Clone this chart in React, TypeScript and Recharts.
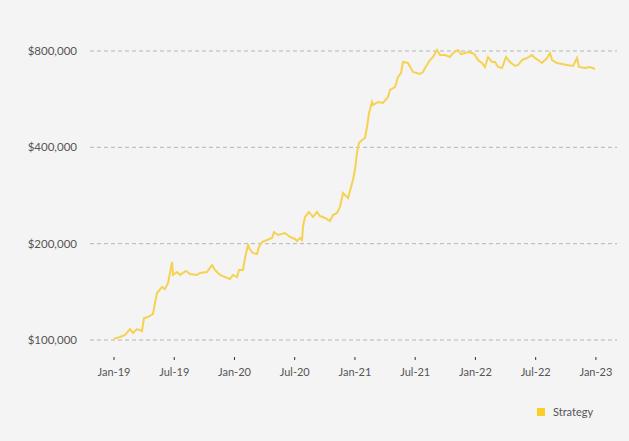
import React from "react";
import { LineChart, Line, XAxis, YAxis, CartesianGrid, Legend } from "recharts";

if (typeof document !== "undefined") {
  document.body.style.margin = "0";
  document.body.style.background = "#f4f4f4";
}

// months since Jan-2019
const months = [
  0, 0.6, 1.1, 1.59, 1.89, 2.29, 2.79, 2.99, 3.39, 3.88, 4.28, 4.78, 5.08, 5.38, 5.58, 5.78, 5.88,
  6.27, 6.57, 7.17, 7.57, 8.27, 8.57, 9.26, 9.76, 10.06, 10.56, 11.06, 11.55, 11.85, 12.25, 12.45,
  12.85, 13.05, 13.35, 13.45, 13.84, 14.24, 14.44, 14.74, 15.24, 15.74, 15.94, 16.33, 17.03, 17.53,
  18.03, 18.23, 18.53, 18.73, 18.82, 19.02, 19.42, 19.82, 20.22, 20.52, 21.02, 21.51, 21.81, 22.21,
  22.51, 22.81, 23.01, 23.31, 23.61, 23.8, 24.0, 24.2, 24.4, 24.7, 25.0, 25.2, 25.4, 25.7, 25.8,
  26.3, 26.79, 27.29, 27.49, 27.99, 28.29, 28.59, 28.78, 29.28, 29.78, 30.48, 30.78, 30.98, 31.47,
  31.77, 32.17, 32.47, 32.97, 33.47, 33.76, 34.26, 34.56, 34.96, 35.26, 35.66, 35.96, 36.25, 36.65,
  36.95, 37.25, 37.65, 37.95, 38.25, 38.65, 39.04, 39.44, 39.94, 40.24, 40.64, 41.14, 41.63, 41.93,
  42.23, 42.63, 43.13, 43.43, 43.63, 44.12, 44.62, 45.12, 45.72, 46.12, 46.31, 46.91, 47.41, 47.91,
];

// strategy value (thousands of $)
const strategy = [
  101, 102.2, 103.7, 108.2, 105.2, 108.2, 106.7, 117.2, 118.0, 120.6, 140.2, 146.4, 144.3, 150.7, 162, 175.3, 159.7,
  163.1, 159.7, 164.3, 160.8, 159.7, 162, 163.1, 171.5, 165.5, 159.7, 157.3, 155.1, 159.7, 157.3, 165.5,
  165.5, 180.4, 199, 193.9, 187, 185.7, 195.3, 202.4, 205.4, 208.4, 217.5, 212.9, 216, 209.9,
  206.9, 203.9, 208.4, 205.4, 225.5, 242.3, 251.2, 242.3, 251.2, 244, 240.6, 235.5, 245.8, 249.4,
  260.4, 288, 283.9, 277.8, 300.7, 316.3, 339.8, 384.1, 412.7, 421.7, 427.8, 463.1, 512.1, 554.3, 542.5,
  554.3, 550.3, 574.6, 604.3, 617.5, 663.6, 683, 739.2, 733.9, 687.9, 678.1, 687.9, 708, 749.9,
  766.2, 805.8, 777.3, 777.3, 766.2, 788.6, 805.8, 783, 788.6, 794.3, 788.6, 777.3, 749.9, 733.9,
  713.1, 766.2, 739.2, 739.2, 713.1, 708, 766.2, 739.2, 718.2, 723.4, 749.9, 760.7, 777.3, 760.7,
  749.9, 733.9, 760.7, 788.6, 749.9, 733.9, 728.6, 723.4, 718.2, 760.7, 713.1, 708, 713.1, 702.9,
];

const xTicks = [0, 6, 12, 18, 24, 30, 36, 42, 48];
const xTickLabels = ["Jan-19", "Jul-19", "Jan-20", "Jul-20", "Jan-21", "Jul-21", "Jan-22", "Jul-22", "Jan-23"];
const yTicks = [100000, 200000, 400000, 800000];

const data = months.map((t, i) => ({ t, Strategy: strategy[i] * 1000 }));

const FONT = "Lato, 'Open Sans', sans-serif";

const fmtY = (v: number) => "$" + v.toLocaleString("en-US");
const fmtX = (v: number) => {
  const i = xTicks.indexOf(v);
  return i >= 0 ? xTickLabels[i] : "";
};

const LegendContent = () => (
  <div style={{ display: "flex", alignItems: "center", fontFamily: FONT, fontSize: 11, color: "#555" }}>
    <span style={{ display: "inline-block", width: 8, height: 8, background: "#F9CF2A", marginRight: 8 }} />
    <span>Strategy</span>
  </div>
);

export default function App() {
  return (
    <div style={{ width: 629, height: 441, background: "#f4f4f4" }}>
      <LineChart width={629} height={441} data={data} margin={{ top: 20, right: 12, left: 0, bottom: 54 }}>
        <CartesianGrid vertical={false} stroke="#b4b4b4" strokeDasharray="4 3" syncWithTicks />
        <XAxis
          dataKey="t"
          type="number"
          domain={[-2.39, 50.1]}
          allowDataOverflow
          ticks={xTicks}
          tickFormatter={fmtX}
          axisLine={false}
          tickLine={{ stroke: "#333" }}
          tickSize={3}
          tickMargin={8}
          height={30}
          tick={{ fontFamily: FONT, fontSize: 11, fill: "#555" }}
        />
        <YAxis
          scale="log"
          domain={[88500, 1000000]}
          allowDataOverflow
          ticks={yTicks}
          tickFormatter={fmtY}
          axisLine={false}
          tickLine={false}
          tickSize={0}
          tickMargin={13}
          width={90}
          tick={{ fontFamily: FONT, fontSize: 11.5, fill: "#555" }}
        />
        <Legend
          verticalAlign="middle"
          align="center"
          layout="horizontal"
          content={<LegendContent />}
          wrapperStyle={{ top: 405, left: 537, width: 80, height: 16 }}
        />
        <Line
          type="linear"
          dataKey="Strategy"
          stroke="#F6D252"
          strokeWidth={2}
          dot={false}
          isAnimationActive={false}
        />
      </LineChart>
    </div>
  );
}
